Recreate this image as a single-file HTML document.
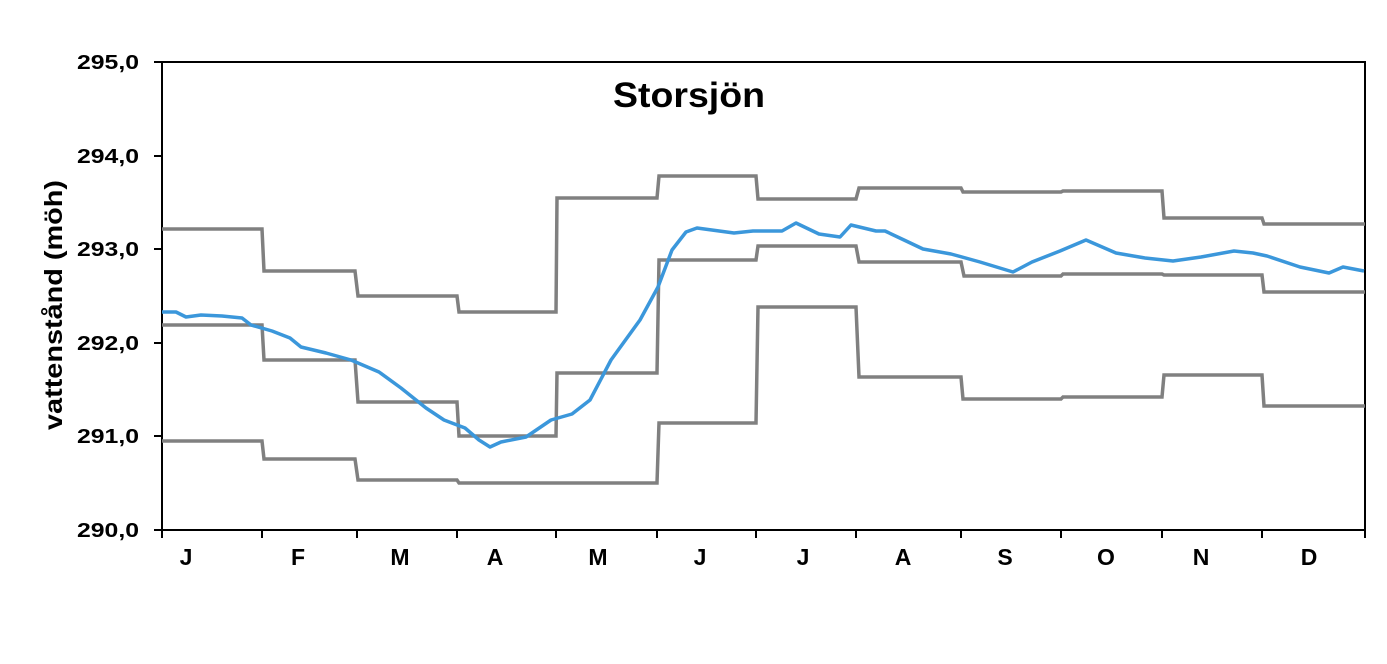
<!DOCTYPE html>
<html><head><style>body{margin:0;background:#fff}svg{display:block}text{font-family:"Liberation Sans",sans-serif;font-weight:bold;fill:#000}</style></head>
<body>
<svg width="1387" height="664" viewBox="0 0 1387 664">
<rect x="162" y="62" width="1203" height="468" fill="none" stroke="#000" stroke-width="2"/>
<g stroke="#000" stroke-width="2">
<line x1="154" y1="62" x2="162" y2="62"/><line x1="154" y1="156" x2="162" y2="156"/><line x1="154" y1="249" x2="162" y2="249"/><line x1="154" y1="343" x2="162" y2="343"/><line x1="154" y1="436" x2="162" y2="436"/><line x1="154" y1="530" x2="162" y2="530"/>
<path d="M162 530v8M262 530v8M357 530v8M457 530v8M556 530v8M657 530v8M756 530v8M856 530v8M961 530v8M1061 530v8M1162 530v8M1262 530v8M1365 530v8"/>
</g>
<g font-size="20">
<text x="77" y="69" textLength="62" lengthAdjust="spacingAndGlyphs">295,0</text>
<text x="77" y="163" textLength="62" lengthAdjust="spacingAndGlyphs">294,0</text>
<text x="77" y="256" textLength="62" lengthAdjust="spacingAndGlyphs">293,0</text>
<text x="77" y="350" textLength="62" lengthAdjust="spacingAndGlyphs">292,0</text>
<text x="77" y="443" textLength="62" lengthAdjust="spacingAndGlyphs">291,0</text>
<text x="77" y="537" textLength="62" lengthAdjust="spacingAndGlyphs">290,0</text>
</g>
<g font-size="23" text-anchor="middle">
<text x="186" y="565">J</text><text x="298" y="565">F</text><text x="400" y="565">M</text><text x="495" y="565">A</text><text x="598" y="565">M</text><text x="700" y="565">J</text><text x="803" y="565">J</text><text x="903" y="565">A</text><text x="1005" y="565">S</text><text x="1106" y="565">O</text><text x="1201" y="565">N</text><text x="1309" y="565">D</text>
</g>
<text x="613" y="107" font-size="35" textLength="152" lengthAdjust="spacingAndGlyphs">Storsjön</text>
<text transform="translate(62,305) rotate(-90)" font-size="25" text-anchor="middle" textLength="250" lengthAdjust="spacingAndGlyphs">vattenstånd (möh)</text>
<g fill="none" stroke="#808080" stroke-width="3.5">
<path d="M162 229H262L264 271H355L358 296H457L459 312H556L557 198H657L659 176H756L758 199H856L859 188H961L963 192H1061L1063 191H1162L1164 218H1262L1264 224H1365"/>
<path d="M162 325H262L264 360H355L358 402H457L459 436H556L557 373H657L659 260H756L758 246H856L859 262H961L964 276H1061L1063 274H1162L1164 275H1262L1264 292H1365"/>
<path d="M162 441H262L264 459H355L358 480H457L459 483H657L659 423H756L758 307H856L859 377H961L963 399H1061L1063 397H1162L1164 375H1262L1264 406H1365"/>
</g>
<polyline fill="none" stroke="#3b97db" stroke-width="3.5" stroke-linejoin="round" points="162,312 176,312 186,317 201,315 222,316 242,318 251,325 272,331 290,338 301,347 326,353 351,360 379,372 401,388 426,408 444,420 465,428 479,440 490,447 501,442 526,437 551,420 572,414 590,400 611,360 640,320 658,287 672,250 686,232 697,228 734,233 753,231 782,231 796,223 819,234 840,237 851,225 876,231 885,231 904,240 923,249 951,254 980,262 1013,272 1032,262 1060,251 1086,240 1116,253 1145,258 1173,261 1201,257 1234,251 1253,253 1267,256 1300,267 1329,273 1343,267 1364,271"/>
</svg>
</body></html>
